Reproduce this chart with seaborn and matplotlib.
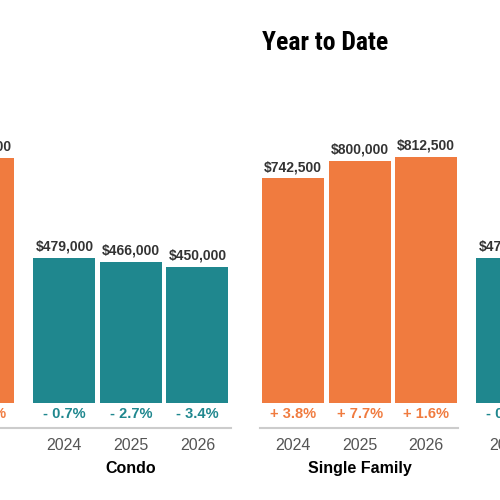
import pandas as pd
import seaborn as sns
import matplotlib.pyplot as plt

# values (off-screen ones estimated)
years = ["2024", "2025", "2026"]
property_types = ["Single Family", "Condo"]

month_single_family = [752000, 797000, 809000]
month_condo = [479000, 466000, 450000]
month_sf_change = [2.4, 6.0, 1.4]
month_condo_change = [-0.7, -2.7, -3.4]

ytd_single_family = [742500, 800000, 812500]
ytd_condo = [479000, 468000, 455000]
ytd_sf_change = [3.8, 7.7, 1.6]
ytd_condo_change = [-0.4, -2.3, -2.8]

colors = {"Single Family": "#f07b3f", "Condo": "#1f878e"}
GROUP_GAP = 0.22


def build_frame(sf, condo, sf_chg, condo_chg):
    rows = []
    for g, (vals, chg) in enumerate([(sf, sf_chg), (condo, condo_chg)]):
        for i, year in enumerate(years):
            rows.append({
                "type": property_types[g],
                "year": year,
                "pos": g * (len(years) + GROUP_GAP) + i,
                "value": vals[i],
                "change": chg[i],
            })
    return pd.DataFrame(rows)


def fmt_change(c):
    sign = "+" if c >= 0 else "-"
    return f"{sign} {abs(c):.1f}%"


def draw_panel(ax, df, line_end=None):
    sns.barplot(data=df, x="pos", y="value", hue="type", palette=colors,
                native_scale=True, width=0.93, dodge=False, legend=False,
                saturation=1, linewidth=0, ax=ax)
    ax.set_xlim(-0.5, 2 * len(years) + GROUP_GAP - 0.5)
    ax.set_ylim(-82600, 1001000)

    for _, r in df.iterrows():
        ax.annotate(f"${r.value:,.0f}", (r.pos, r.value), xytext=(0, 3),
                    textcoords="offset points", ha="center", va="bottom",
                    fontsize=10, fontweight="bold", color="#333333")
        ax.text(r.pos, -36000, fmt_change(r.change), ha="center", va="center",
                fontsize=10.5, fontweight="bold", color=colors[r.type])

    for t in property_types:
        center = df.loc[df.type == t, "pos"].mean()
        ax.text(center, -0.122, t, transform=ax.get_xaxis_transform(),
                ha="center", va="center", fontsize=11.5, fontweight="bold",
                color="black")

    ax.set_xticks(df.pos, labels=df.year)
    ax.set_yticks([])
    ax.set_xlabel("")
    ax.set_ylabel("")
    ax.tick_params(axis="x", length=4, width=1, color="#c8c8c8",
                   labelsize=11.5, labelcolor="#555555", pad=3)
    for s in ["top", "right", "left"]:
        ax.spines[s].set_visible(False)
    ax.spines["bottom"].set_color("#cccccc")
    ax.spines["bottom"].set_linewidth(1.5)
    if line_end is not None:
        ax.spines["bottom"].set_bounds(-0.5, line_end)


sns.set_style("white")
plt.rcParams["font.family"] = ["Liberation Sans", "DejaVu Sans"]

month_df = build_frame(month_single_family, month_condo, month_sf_change, month_condo_change)
ytd_df = build_frame(ytd_single_family, ytd_condo, ytd_sf_change, ytd_condo_change)

fig = plt.figure(figsize=(5, 5), dpi=100)
ax_month = fig.add_axes([-0.366, 0.144, 0.8273, 0.656])
ax_ytd = fig.add_axes([0.52, 0.144, 0.8273, 0.656])

draw_panel(ax_month, month_df)
draw_panel(ax_ytd, ytd_df, line_end=2.48)

fig.text(262 / 500, 1 - 43 / 500, "Year to Date", fontsize=18.5,
         fontweight="bold", family=["Roboto Condensed", "Liberation Sans"],
         va="center", ha="left", color="black")

fig.savefig("out.png", dpi=100)
